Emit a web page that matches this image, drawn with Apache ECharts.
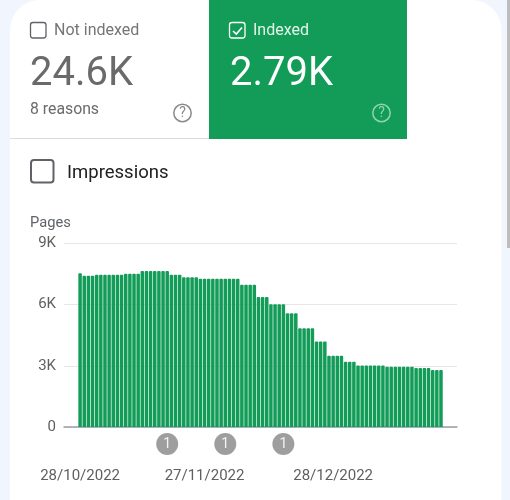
<!DOCTYPE html>
<html>
<head>
<meta charset="utf-8">
<style>
  html, body { margin: 0; padding: 0; background: #f1f5fd; }
  #chart { width: 510px; height: 500px; }
</style>
<script src="https://cdn.jsdelivr.net/npm/echarts@6/dist/echarts.min.js"></script>
</head>
<body>
<div id="chart"></div>
<script>
// Daily count of indexed pages; the x axis counts days from 28 Oct 2022
const firstDay = new Date(2022, 9, 28);
const indexedPages = [
  7540, 7420, 7420, 7420,
  7470, 7470, 7470, 7470, 7470, 7470, 7470,
  7520, 7520, 7520, 7520,
  7650, 7650, 7650, 7650, 7650, 7650, 7650,
  7470, 7470, 7470,
  7340, 7340, 7340, 7340,
  7270, 7270, 7270, 7270, 7270, 7270, 7270, 7270, 7270, 7270,
  6980, 6980, 6980, 6980,
  6380, 6380, 6380,
  6020, 6020, 6020, 6020,
  5580, 5580, 5580,
  4840, 4840, 4840, 4840,
  4190, 4190, 4190,
  3500, 3500, 3500, 3500,
  3200, 3200, 3200,
  3020, 3020, 3020, 3020, 3020, 3020, 3020,
  2960, 2960, 2960, 2960, 2960, 2960, 2960,
  2890, 2890, 2890, 2890,
  2790, 2790, 2790
];
const annotationDays = [21, 35, 49];
const annotationCount = [1, 1, 1];
const dateTickDays = [0, 30, 61];

const GREEN = '#129c58';
const GREY_TEXT = '#6a6a6a';

const pad = n => String(n).padStart(2, '0');
const formatDay = offset => {
  const d = new Date(firstDay.getFullYear(), firstDay.getMonth(), firstDay.getDate() + offset);
  return pad(d.getDate()) + '/' + pad(d.getMonth() + 1) + '/' + d.getFullYear();
};
const xRange = { min: -3.88, max: 90.86 };

function label(x, y, text, size, fill) {
  return {
    type: 'text', x, y,
    style: {
      text, fill, fontSize: size, fontFamily: 'Roboto',
      verticalAlign: 'middle'
    }
  };
}
function checkbox(x, y, s, stroke, lw, checked) {
  const items = [{
    type: 'rect',
    shape: { x, y, width: s, height: s, r: 2.5 },
    style: { fill: 'transparent', stroke, lineWidth: lw }
  }];
  if (checked) {
    items.push({
      type: 'polyline',
      shape: { points: [[x + 3.5, y + 8.5], [x + 6.8, y + 11.5], [x + 12.5, y + 5]] },
      style: { fill: 'none', stroke, lineWidth: 1.6 }
    });
  }
  return items;
}
function helpIcon(cx, cy, color) {
  return [
    { type: 'circle', shape: { cx, cy, r: 8.7 },
      style: { fill: 'transparent', stroke: color, lineWidth: 1.5 } },
    { type: 'text', x: cx, y: cy + 0.5,
      style: { text: '?', fill: color, fontSize: 14, fontFamily: 'Roboto',
               align: 'center', verticalAlign: 'middle' } }
  ];
}

const chart = echarts.init(document.getElementById('chart'), null, { renderer: 'canvas' });
chart.setOption({
  animation: false,
  backgroundColor: '#f1f5fd',
  graphic: { elements: [
    // Card and summary tiles
    { type: 'rect', z: -10, silent: true,
      shape: { x: 10, y: 0, width: 491.5, height: 520, r: [30, 30, 0, 0] },
      style: { fill: '#ffffff' } },
    { type: 'rect', z: -9, shape: { x: 507, y: 0, width: 3, height: 248 },
      style: { fill: '#bdbdbd' } },
    { type: 'rect', z: -9, shape: { x: 10, y: 138, width: 199, height: 1 },
      style: { fill: '#dadce0' } },
    { type: 'rect', z: -9, shape: { x: 209, y: 0, width: 198, height: 139 },
      style: { fill: GREEN } },
    ...checkbox(30.5, 22.5, 15.5, '#5f6368', 1.3, false),
    label(54, 30.5, 'Not indexed', 16, '#757575'),
    label(30, 75, '24.6K', 40, GREY_TEXT),
    label(30, 110.5, '8 reasons', 15.8, GREY_TEXT),
    ...helpIcon(182.5, 113, '#8a8a8a'),
    ...checkbox(229.5, 22.5, 15.5, '#ffffff', 1.3, true),
    label(253, 30.5, 'Indexed', 16, '#e4f4ea'),
    label(230, 75, '2.79K', 40, '#ffffff'),
    ...helpIcon(381.5, 113, '#8fd6ae'),
    // Metric toggle
    { type: 'rect', shape: { x: 31, y: 160, width: 22.5, height: 22.5, r: 3 },
      style: { fill: 'transparent', stroke: '#5f6368', lineWidth: 2 } },
    label(67, 173, 'Impressions', 18.5, '#202124'),
    label(30, 223, 'Pages', 14.7, '#5f6368')
  ] },
  grid: [
    { left: 64, width: 393, top: 243.5, height: 183.5 },
    { left: 64, width: 393, top: 433, height: 22 }
  ],
  xAxis: [
    {
      type: 'value', gridIndex: 0, ...xRange,
      axisLine: { show: true, onZero: false, lineStyle: { color: '#9aa0a6', width: 1.5 } },
      axisTick: { show: false },
      splitLine: { show: false },
      axisLabel: {
        customValues: dateTickDays,
        formatter: formatDay,
        margin: 42, color: '#5f5f5f', fontSize: 15, fontFamily: 'Roboto'
      }
    },
    { type: 'value', gridIndex: 1, ...xRange, show: false }
  ],
  yAxis: [
    {
      type: 'value', gridIndex: 0, min: 0, max: 9000, interval: 3000,
      axisLine: { show: false }, axisTick: { show: false },
      splitLine: { lineStyle: { color: '#e6e7e9', width: 1 } },
      axisLabel: {
        margin: 8, color: '#5f5f5f', fontSize: 15, fontFamily: 'Roboto',
        formatter: v => (v > 0 ? v / 1000 + 'K' : '0')
      }
    },
    { type: 'value', gridIndex: 1, min: 0, max: 1, show: false }
  ],
  series: [
    {
      type: 'bar', xAxisIndex: 0, yAxisIndex: 0,
      barWidth: 3.5,
      itemStyle: { color: GREEN, borderRadius: [1, 1, 0, 0] },
      data: indexedPages.map((v, i) => [i, v])
    },
    {
      type: 'scatter', xAxisIndex: 1, yAxisIndex: 1,
      symbol: 'circle', symbolSize: 22,
      itemStyle: { color: '#9e9e9e', opacity: 1 },
      label: {
        show: true, position: 'inside', color: '#f4f4f4',
        fontSize: 14, fontFamily: 'Roboto',
        formatter: p => String(p.value[2])
      },
      data: annotationDays.map((d, i) => [d, 0.5, annotationCount[i]])
    }
  ]
});
</script>
</body>
</html>
